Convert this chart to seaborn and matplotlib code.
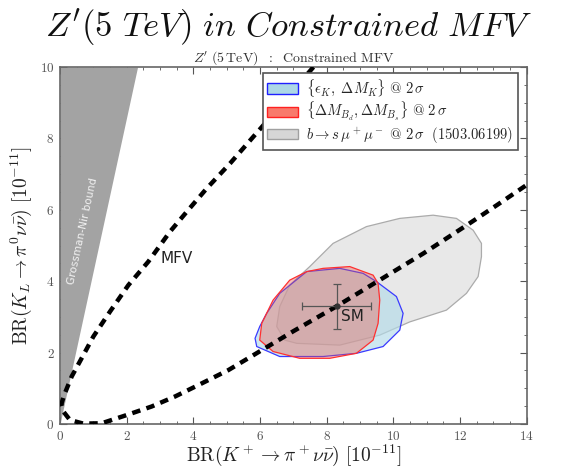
import numpy as np
import pandas as pd
import matplotlib
matplotlib.use("Agg")
import matplotlib.pyplot as plt
import seaborn as sns
from matplotlib.patches import Patch
from matplotlib.ticker import FixedLocator, MultipleLocator, FuncFormatter

# MFV relation between the two kaon branching ratios (units of 1e-11)
mfv_x = [7.6, 6.1, 5.8, 5.1, 4.4, 3.85, 3.3, 2.65, 2.05, 1.5, 1.0, 0.7, 0.35,
         0.12, 0.04, 0.1, 0.3, 0.7, 1.25, 2.0, 2.75, 3.45, 4.15, 5.05, 5.75,
         7.0, 8.3, 10.9, 12.2, 13.1, 14.0]
mfv_y = [10.0, 8.37, 8.05, 7.3, 6.6, 6.0, 5.39, 4.55, 3.89, 3.15, 2.45, 1.93, 1.33,
         0.8, 0.55, 0.35, 0.11, 0.01, 0.02, 0.25, 0.49, 0.77, 1.09, 1.51, 1.9,
         2.6, 3.3, 4.78, 5.57, 6.13, 6.7]

# Grossman-Nir bound: BR(K_L) < 4.3 BR(K+)
gn_slope = 4.3

# b -> s mu mu allowed region
bsmm_x = [7.10, 8.39, 9.59, 10.49, 11.59, 12.19, 12.54, 12.64, 12.64, 12.39, 11.89,
          11.19, 10.19, 9.19, 8.19, 7.49, 6.89, 6.59, 6.50, 6.74]
bsmm_y = [2.26, 2.21, 2.49, 2.86, 3.19, 3.66, 4.13, 4.69, 5.06, 5.43, 5.76,
          5.85, 5.76, 5.53, 5.06, 4.41, 3.89, 3.29, 2.73, 2.35]

# epsilon_K, Delta M_K allowed region
epsk_x = [8.39, 9.09, 9.49, 9.69, 10.09, 10.29, 10.19, 9.69, 8.89, 7.89, 6.59,
          5.90, 5.85, 5.99, 6.20, 6.59, 7.40]
epsk_y = [4.36, 4.22, 3.99, 3.85, 3.57, 3.10, 2.63, 2.17, 1.98, 1.89, 1.89,
          2.17, 2.40, 2.73, 3.10, 3.66, 4.27]

# Delta M_Bd, Delta M_Bs allowed region
dmb_x = [7.89, 8.69, 9.39, 9.54, 9.59, 9.54, 9.39, 8.89, 8.09, 7.19, 6.39,
         5.99, 6.05, 6.39, 6.89, 7.40]
dmb_y = [4.36, 4.41, 4.17, 3.94, 3.47, 2.82, 2.35, 1.98, 1.84, 1.84, 2.03,
         2.35, 2.82, 3.47, 4.03, 4.27]

# Standard Model point with uncertainties
sm_x, sm_y = 8.3, 3.3
sm_xerr, sm_yerr = 1.03, 0.63

xticks = [0, 2, 4, 6, 8, 10, 12, 14]
yticks = [0, 2, 4, 6, 8, 10]

sns.set_style("ticks")
plt.rcParams["mathtext.fontset"] = "cm"

fig = plt.figure(figsize=(5.77, 4.69), dpi=100)
ax = fig.add_axes([0.104, 0.096, 0.809, 0.761])

# Grossman-Nir excluded wedge
gy = np.array([0.0, 10.0])
ax.fill_betweenx(gy, 0, gy / gn_slope, color="#a3a3a3", lw=0, zorder=1)
ax.text(0.68, 5.4, "Grossman-Nir bound", rotation=77.7, color="#f2f2f2",
        fontsize=7.6, ha="center", va="center", family="DejaVu Sans", zorder=2)

# allowed regions
ax.fill(bsmm_x, bsmm_y, facecolor="#e8e8e8", edgecolor="#ababab", lw=0.9, zorder=2)
ax.fill(epsk_x, epsk_y, facecolor=(0.70, 0.86, 0.91, 0.65), edgecolor="#3a3aff",
        lw=0.9, zorder=3)
ax.fill(dmb_x, dmb_y, facecolor=(0.93, 0.33, 0.28, 0.36), edgecolor="#ff3030",
        lw=0.9, zorder=4)

# MFV curve
mfv = pd.DataFrame({"x": mfv_x, "y": mfv_y})
sns.lineplot(data=mfv, x="x", y="y", sort=False, estimator=None, ax=ax,
             color="black", lw=3.2, dashes=False, zorder=5)
ax.lines[-1].set_dashes((1.9, 1.45))
ax.text(3.0, 4.65, "MFV", fontsize=11, va="center", ha="left",
        family="DejaVu Sans", color="#222222", zorder=6)

# SM point
ax.errorbar([sm_x], [sm_y], xerr=[sm_xerr], yerr=[sm_yerr], fmt="o", ms=3.5,
            color="#333333", ecolor="#555555", elinewidth=0.9, capsize=3,
            capthick=0.9, zorder=7)
ax.text(sm_x + 0.12, sm_y - 0.28, "SM", fontsize=11, va="center", ha="left",
        family="DejaVu Sans", color="#222222", zorder=7)

ax.set_xlim(0, 14)
ax.set_ylim(0, 10)
ax.xaxis.set_major_locator(FixedLocator(xticks))
ax.yaxis.set_major_locator(FixedLocator(yticks))
ax.xaxis.set_minor_locator(MultipleLocator(0.5))
ax.yaxis.set_minor_locator(MultipleLocator(0.5))
fmt = FuncFormatter(lambda v, p: r"$%d$" % v)
ax.xaxis.set_major_formatter(fmt)
ax.yaxis.set_major_formatter(fmt)
ax.tick_params(which="both", direction="in", top=True, right=True,
               color="#555555", labelcolor="#555555", labelsize=9.5, pad=4)
ax.tick_params(which="major", length=5, width=0.8)
ax.tick_params(which="minor", length=2.5, width=0.6)
for s in ax.spines.values():
    s.set_color("#666666")
    s.set_linewidth(1.2)

ax.set_xlabel(r"$\mathrm{BR}(K^+\to\pi^+\nu\bar\nu)\ [10^{-11}]$", fontsize=14,
              labelpad=0, color="#222222")
ax.set_ylabel(r"$\mathrm{BR}(K_L\to\pi^0\nu\bar\nu)\ [10^{-11}]$", fontsize=14,
              labelpad=4, color="#222222")
ax.set_title(r"$Z^\prime\ (5\,\mathrm{TeV})\ \ :\ \ \mathrm{Constrained\ MFV}$",
             fontsize=10, pad=2, color="#333333")

handles = [
    Patch(facecolor="#add8e6", edgecolor="#2020ff", lw=1.0),
    Patch(facecolor="#f87a6c", edgecolor="#ff2020", lw=1.0),
    Patch(facecolor="#d6d6d6", edgecolor="#a0a0a0", lw=1.0),
]
labels = [
    r"$\{\epsilon_K,\ \Delta M_K\}\ @\ 2\,\sigma$",
    r"$\{\Delta M_{B_d}, \Delta M_{B_s}\}\ @\ 2\,\sigma$",
    r"$b\to s\,\mu^+\mu^-\ @\ 2\,\sigma\ \ (1503.06199)$",
]
leg = ax.legend(handles, labels, loc="upper right", fontsize=10.5, frameon=True,
                fancybox=False, edgecolor="#555555", framealpha=1,
                bbox_to_anchor=(0.981, 0.983), borderaxespad=0,
                handlelength=2.1, handleheight=0.7, borderpad=0.3,
                labelspacing=0.12, handletextpad=0.6)
leg.get_frame().set_linewidth(1.2)
leg.set_zorder(10)

fig.text(0.5, 0.985, r"$\mathit{Z'(5\ TeV)\ in\ Constrained\ MFV}$",
         ha="center", va="top", fontsize=25, color="#111111")

fig.savefig("out.png", dpi=100)
